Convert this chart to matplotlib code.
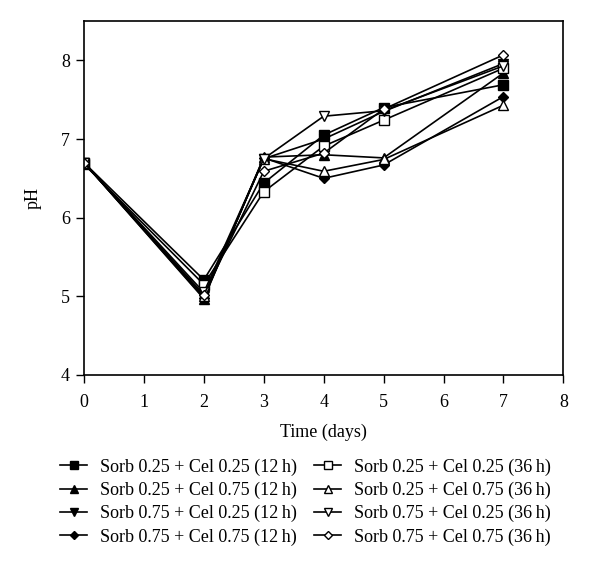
import matplotlib.pyplot as plt

plt.rcParams['font.family'] = ['Liberation Serif', 'DejaVu Serif']

days = [0, 2, 3, 4, 5, 7]

labels = [
    'Sorb 0.25 + Cel 0.25 (12\u2009h)',
    'Sorb 0.25 + Cel 0.75 (12\u2009h)',
    'Sorb 0.75 + Cel 0.25 (12\u2009h)',
    'Sorb 0.75 + Cel 0.75 (12\u2009h)',
    'Sorb 0.25 + Cel 0.25 (36\u2009h)',
    'Sorb 0.25 + Cel 0.75 (36\u2009h)',
    'Sorb 0.75 + Cel 0.25 (36\u2009h)',
    'Sorb 0.75 + Cel 0.75 (36\u2009h)',
]

# pH values
s25c25_12 = [6.70, 5.21, 6.44, 7.05, 7.40, 7.69]
s25c75_12 = [6.70, 4.97, 6.77, 6.80, 6.76, 7.84]
s75c25_12 = [6.70, 5.00, 6.75, 7.00, 7.35, 7.96]
s75c75_12 = [6.70, 4.98, 6.76, 6.50, 6.67, 7.54]
s25c25_36 = [6.68, 5.15, 6.33, 6.91, 7.24, 7.90]
s25c75_36 = [6.70, 5.00, 6.75, 6.59, 6.74, 7.43]
s75c25_36 = [6.70, 5.05, 6.75, 7.29, 7.36, 7.93]
s75c75_36 = [6.70, 5.02, 6.59, 6.82, 7.38, 8.07]

series = [s25c25_12, s25c75_12, s75c25_12, s75c75_12,
          s25c25_36, s25c75_36, s75c25_36, s75c75_36]
markers = ['s', '^', 'v', 'D', 's', '^', 'v', 'D']
filled = [True, True, True, True, False, False, False, False]

fig = plt.figure(figsize=(6, 5.69), dpi=100)
ax = fig.add_axes([0.14, 0.341, 0.799, 0.622])

handles = []
for vals, m, f, lab in zip(series, markers, filled, labels):
    ms = 5.5 if m == 'D' else 6.5
    h, = ax.plot(days, vals, color='black', linewidth=1.2, marker=m, markersize=ms,
                 markerfacecolor='black' if f else 'white', markeredgecolor='black',
                 markeredgewidth=1.0, label=lab)
    handles.append(h)

ax.set_xlim(0, 8)
ax.set_ylim(4, 8.5)
ax.set_xticks(range(0, 9))
ax.set_yticks([4, 5, 6, 7, 8])
ax.tick_params(direction='out', length=5.5, width=1, labelsize=13)
ax.tick_params(axis='x', pad=8.5)
ax.tick_params(axis='y', pad=4.5)
for sp in ax.spines.values():
    sp.set_linewidth(1.2)
ax.set_xlabel('Time (days)', fontsize=13, labelpad=9)
ax.set_ylabel('pH', fontsize=13, labelpad=14)

fig.legend(handles=handles, ncol=2, loc='upper center', bbox_to_anchor=(0.509, 0.207),
           frameon=False, fontsize=13, handlelength=1.5, handletextpad=0.7,
           columnspacing=0.95, labelspacing=0.33, borderaxespad=0, markerscale=0.8)

fig.savefig('out.png', dpi=100)
